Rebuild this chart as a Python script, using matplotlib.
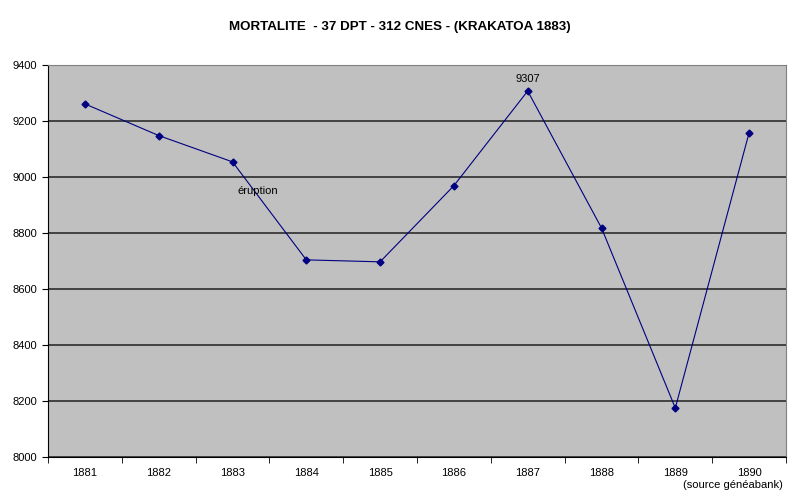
import matplotlib
matplotlib.use('Agg')
import matplotlib.pyplot as plt
import numpy as np

years = ['1881', '1882', '1883', '1884', '1885', '1886', '1887', '1888', '1889', '1890']
deaths = [9261, 9148, 9054, 8704, 8697, 8969, 9307, 8818, 8175, 9158]
y_ticks = [8000, 8200, 8400, 8600, 8800, 9000, 9200, 9400]

plt.rcParams['font.family'] = ['Liberation Sans', 'DejaVu Sans']

fig = plt.figure(figsize=(8, 4.96), dpi=100)
ax = fig.add_axes([0.06, 0.0786, 0.9225, 0.7904])
ax.set_facecolor('#c0c0c0')

x = np.arange(len(years))
ax.plot(x, deaths, color='#000080', linewidth=0.8, marker='D', markersize=3.5,
        markerfacecolor='#000080', markeredgecolor='#000080')

ax.set_xlim(-0.5, len(years) - 0.5)
ax.set_ylim(8000, 9400)
ax.set_yticks(y_ticks)
ax.set_yticklabels([str(v) for v in y_ticks], fontsize=8)
ax.yaxis.grid(True, color='#202020', linewidth=1.1)
ax.set_axisbelow(True)

ax.set_xticks(x)
ax.set_xticklabels(years, fontsize=8)
ax.set_xticks(np.arange(len(years) + 1) - 0.5, minor=True)
ax.tick_params(axis='x', which='major', length=0, pad=8)
ax.tick_params(axis='x', which='minor', length=4, direction='out', color='black')
ax.tick_params(axis='y', length=4, direction='out', color='black', pad=4)

for side in ['top', 'right']:
    ax.spines[side].set_color('#808080')
ax.spines['left'].set_color('black')
ax.spines['bottom'].set_color('black')

# annotations
peak = deaths.index(max(deaths))
ax.annotate(str(deaths[peak]), (peak, deaths[peak]), xytext=(0, 5),
            textcoords='offset points', ha='center', va='bottom', fontsize=8)
ax.text(2.07, 8950, 'éruption', ha='left', va='center', fontsize=8)

fig.text(0.5, 0.945, 'MORTALITE  - 37 DPT - 312 CNES - (KRAKATOA 1883)',
         ha='center', va='center', fontsize=9.6, fontweight='bold')
fig.text(0.978, 0.022, '(source généabank)', ha='right', va='center', fontsize=8)

plt.savefig('out.png', dpi=100)
